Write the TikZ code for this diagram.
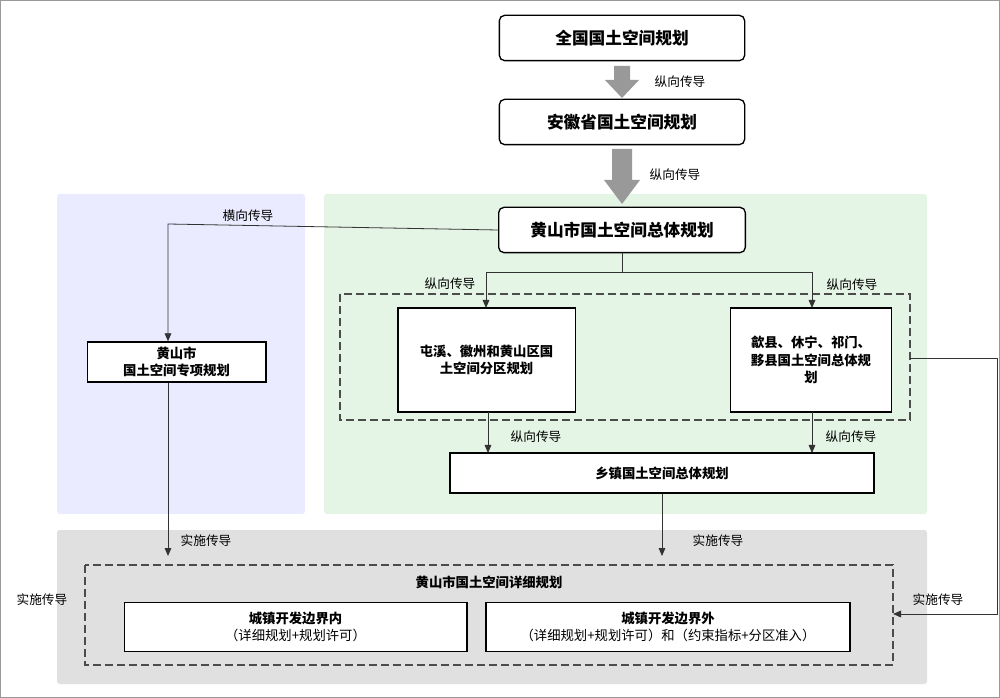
\documentclass[tikz,border=0pt]{standalone}
\usepackage{fontspec}
\setmainfont{Noto Sans CJK SC}
\usetikzlibrary{arrows.meta}
\begin{document}
\begin{tikzpicture}[x=0.75pt,y=-0.75pt,
 box/.style={draw=black,line width=1pt,fill=white,align=center,font=\bfseries\fontsize{10}{13}\selectfont},
 bigbox/.style={box,rounded corners=4pt,font=\bfseries\fontsize{12.5}{15}\selectfont},
 lab/.style={font=\fontsize{9.5}{11}\selectfont,inner sep=1pt},
 con/.style={draw=black!80,line width=0.6pt,-{Triangle[length=6pt,width=5pt]}},
 dashbox/.style={draw=black!70,line width=1.5pt,dash pattern=on 6pt off 3pt}]
\useasboundingbox (0,0) rectangle (1000,698);
\draw[black!40] (0.5,0.5) rectangle (999,697);
\fill[rounded corners=2pt,fill=blue!8!white] (57,194) rectangle (305,514);
\fill[rounded corners=2pt,fill=green!60!black!10] (324,194) rectangle (927,514);
\fill[rounded corners=2pt,fill=black!12] (57,530) rectangle (927,684);
% top boxes
\node[bigbox,minimum width=184pt,minimum height=34pt] (n1) at (622,38) {全国国土空间规划};
\node[bigbox,minimum width=184pt,minimum height=34pt] (n2) at (622,122) {安徽省国土空间规划};
\node[bigbox,minimum width=185pt,minimum height=34pt] (n3) at (622,230) {黄山市国土空间总体规划};
\fill[black!40] (614,66)--(630,66)--(630,80)--(639,80)--(622,98)--(605,80)--(614,80)--cycle;
\fill[black!40] (612,149)--(632,149)--(632,180)--(640,180)--(622,204)--(604,180)--(612,180)--cycle;
\node[lab] (l1) at (680,82) {纵向传导};
\node[lab] (l2) at (675,175) {纵向传导};
% dashed green group
\draw[dashbox] (340,294) rectangle (910,420);
\node[box,minimum width=133pt,minimum height=78pt] (a) at (486.5,360) {屯溪、徽州和黄山区国\\土空间分区规划};
\node[box,minimum width=121pt,minimum height=78pt] (b) at (811,360) {歙县、休宁、祁门、\\黟县国土空间总体规\\划};
\node[box,minimum width=318pt,minimum height=30pt] (c) at (662,473) {乡镇国土空间总体规划};
\node[box,minimum width=134pt,minimum height=30pt] (s) at (176.5,362) {黄山市\\国土空间专项规划};
% detailed
\draw[dashbox] (85,565) rectangle (893,665);
\node[font=\bfseries\fontsize{10}{12}\selectfont] (dt) at (489,582) {黄山市国土空间详细规划};
\node[box,minimum width=257pt,minimum height=37pt,font=\fontsize{10}{13}\selectfont] (d) at (295.5,627) {\textbf{城镇开发边界内}\\（详细规划+规划许可）};
\node[box,minimum width=273pt,minimum height=37pt,font=\fontsize{10}{13}\selectfont] (e) at (668,627) {\textbf{城镇开发边界外}\\（详细规划+规划许可）和（约束指标+分区准入）};
% connectors
\coordinate (h1) at (168,224);
\draw[con] (n3.west) -- (h1) -- (s.north -| h1);
\node[lab] at (248,216) {横向传导};
\coordinate (sp) at (622,272);
\draw[draw=black!80,line width=0.6pt] (n3.south) -- (sp);
\draw[con] (sp) -| (486,308);
\draw[con] (sp) -| (812,308);
\node[lab] at (450,284) {纵向传导};
\node[lab] at (852,285) {纵向传导};
\draw[con] (488,412) -- (488,453);
\draw[con] (812,412) -- (812,453);
\node[lab] at (536,437) {纵向传导};
\node[lab] at (851,437) {纵向传导};
\draw[con] (s.south -| h1) -- (168,556);
\node[lab] at (206,541) {实施传导};
\draw[con] (c.south) -- (662,556);
\node[lab] at (718,541) {实施传导};
\coordinate (r1) at (997,358);
\draw[con] (910,358) -- (r1) -- (997,614) -- (893,614);
\node[lab] at (938,600) {实施传导};
\node[lab] at (42,600) {实施传导};
\end{tikzpicture}
\end{document}
